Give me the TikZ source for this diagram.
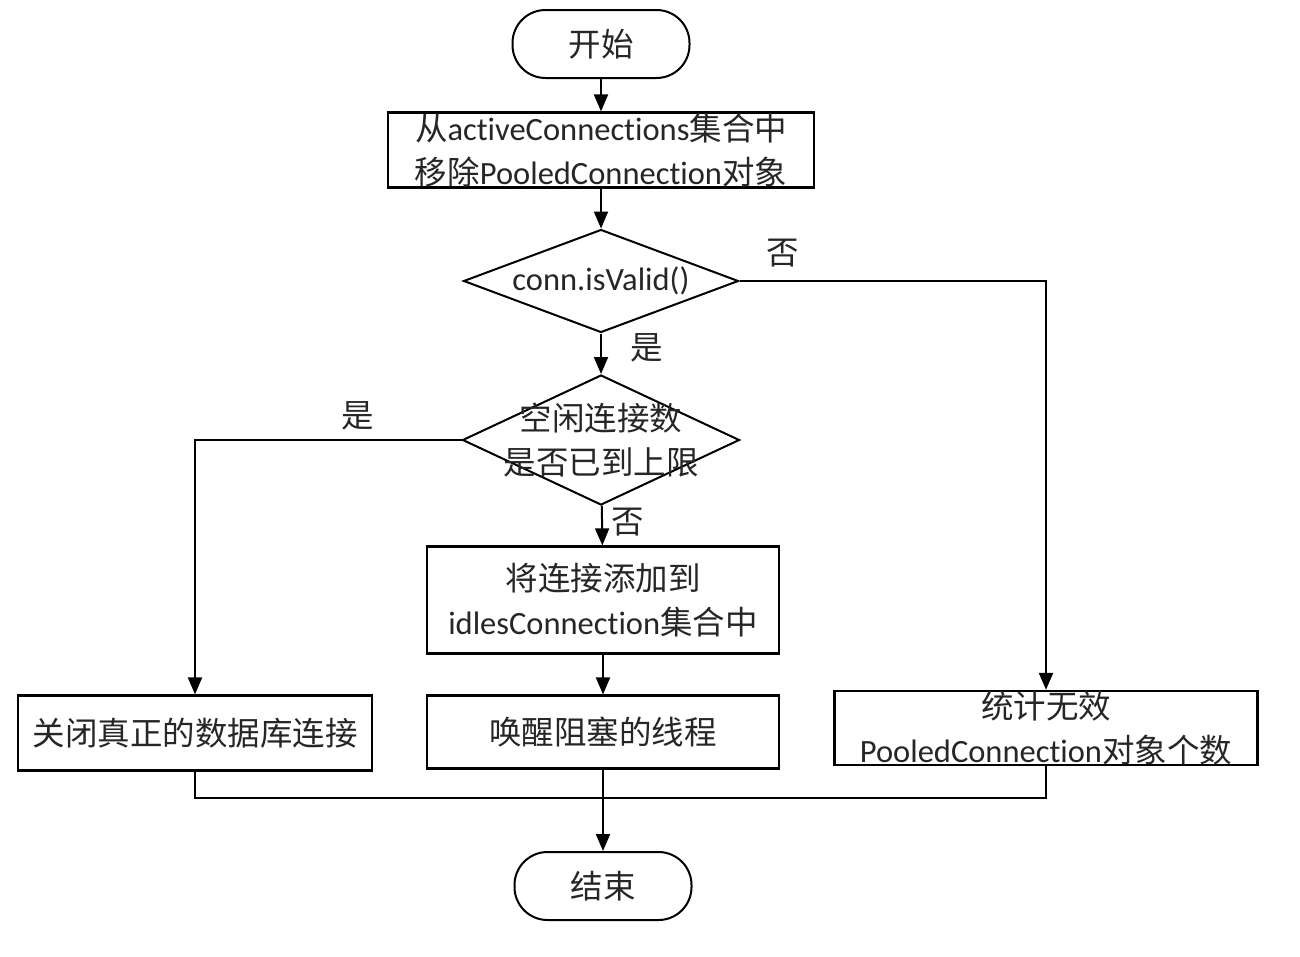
\documentclass[tikz,border=0pt]{standalone}
\usepackage{fontspec}
\setmainfont{Carlito}[Ligatures={NoCommon}]
\newfontfamily\cjk{Noto Sans CJK SC}
\usetikzlibrary{shapes.geometric,arrows.meta}
\begin{document}
\begin{tikzpicture}[x=1pt,y=-1pt,
  every node/.style={font=\fontsize{32.5}{44}\selectfont, text=black!85},
  term/.style={draw, line width=2pt, rounded corners=33pt, minimum width=177pt, minimum height=68pt, inner sep=0pt},
  box/.style={draw, line width=2.2pt, inner sep=0pt, align=center},
  dia/.style={draw, diamond, line width=2pt, inner sep=0pt},
  arr/.style={line width=2pt, -{Triangle[length=17pt,width=14pt]}},
  ln/.style={line width=2pt},
  lab/.style={inner sep=0pt}]
\useasboundingbox (0,0) rectangle (1300,956);
\fill[white] (0,0) rectangle (1300,956);

\node[term] (start) at (601,44) {\cjk 开始};
\node[box, minimum width=426pt, minimum height=75pt] (b1) at (601,150)
  {{\cjk 从}activeConnections{\cjk 集合中}\\{\cjk 移除}PooledConnection{\cjk 对象}};
\node[dia, minimum width=275pt, minimum height=103pt] (d1) at (601,281) {};
\node[lab] at (d1) {conn.isValid()};
\node[dia, minimum width=277pt, minimum height=130pt] (d2) at (601,440) {};
\node[lab, align=center] at (d2) {\cjk 空闲连接数\\\cjk 是否已到上限};
\node[box, minimum width=352pt, minimum height=107pt] (b3) at (603,600)
  {{\cjk 将连接添加到}\\idlesConnection{\cjk 集合中}};
\node[box, minimum width=352pt, minimum height=73pt] (b2) at (603,732) {\cjk 唤醒阻塞的线程};
\node[box, minimum width=354pt, minimum height=75pt] (b4) at (195,733) {\cjk 关闭真正的数据库连接};
\node[box, minimum width=423pt, minimum height=73pt] (b5) at (1046,728)
  {{\cjk 统计无效}\\PooledConnection{\cjk 对象个数}};
\node[term] (end) at (603,886) {\cjk 结束};
\coordinate (m) at (603,798);

\draw[arr] (start) -- (b1);
\draw[arr] (b1) -- (d1);
\draw[arr] (d1) -- (d2);
\draw[arr] (d1.east) -| (b5.north);
\draw[arr] (d2.west) -| (b4.north);
\draw[arr] (d2) -- (b3);
\draw[arr] (b3) -- (b2);
\draw[ln] (b4.south) |- (m) -| (b5.south);
\draw[ln] (b2.south) -- (m);
\draw[arr] (m) -- (end);

\node[lab] at (783,253) {\cjk 否};
\node[lab] at (647,348) {\cjk 是};
\node[lab] at (358,416) {\cjk 是};
\node[lab] at (628,522) {\cjk 否};
\end{tikzpicture}
\end{document}
